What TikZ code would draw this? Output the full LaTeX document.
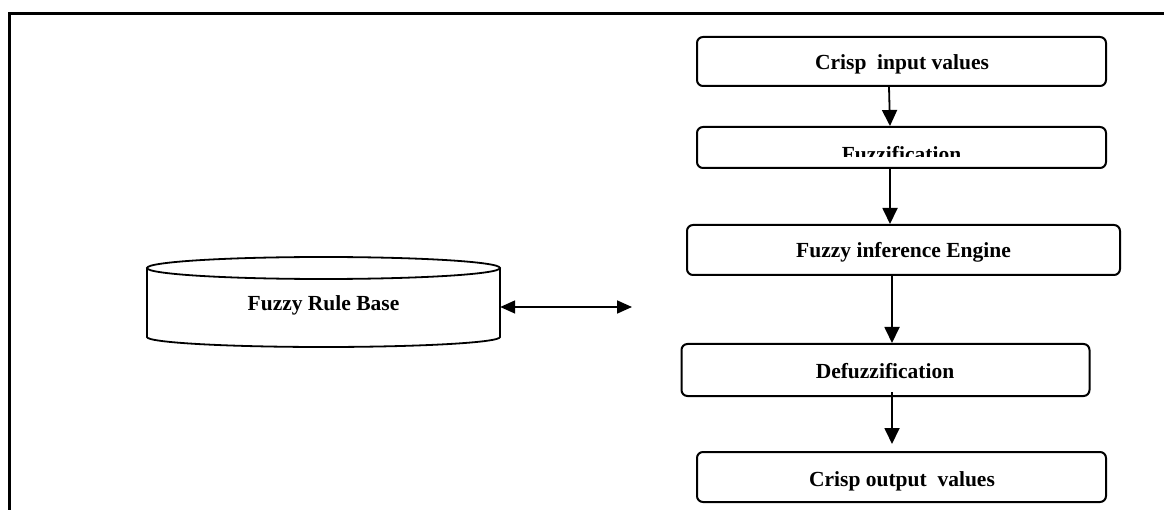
\documentclass[tikz,border=0pt]{standalone}
\usepackage{fontspec}
\setmainfont{Liberation Serif}
\usetikzlibrary{arrows.meta}
\tikzset{
  procbox/.style={draw=black, line width=2pt, rounded corners=6pt, inner sep=0pt},
  lbl/.style={font=\fontsize{21.5}{24}\selectfont\bfseries, inner sep=0pt, anchor=base},
  arr/.style={line width=1.8pt, -{Triangle[length=16pt,width=15pt]}},
  darr/.style={line width=1.8pt, {Triangle[length=15pt,width=13pt]}-{Triangle[length=15pt,width=13pt]}},
  frame/.style={line width=3pt}
}
\begin{document}
\begin{tikzpicture}[x=1pt,y=-1pt]
\useasboundingbox (0,0) rectangle (1164,510);
% frame
\coordinate (ftr) at (1164,14);
\coordinate (ftl) at (9,14);
\coordinate (fbl) at (9,510);
\draw[frame] (ftr) -- (ftl) -- (fbl);

% process boxes
\node[procbox, minimum width=409pt, minimum height=49pt] (cin) at (901.5,61.5) {};
\node[procbox, minimum width=409pt, minimum height=41pt] (fz) at (901.5,147.5) {};
\node[procbox, minimum width=433pt, minimum height=50pt] (fie) at (903.5,250) {};
\node[procbox, minimum width=408pt, minimum height=52pt] (dfz) at (885.5,370) {};
\node[procbox, minimum width=409pt, minimum height=50pt] (cout) at (901.5,477) {};

% labels
\node[lbl] (tcin) at (902,70) {Crisp\ \ input values};
\begin{scope}
  \clip (690,128) rectangle (1112,157);
  \node[lbl] (tfz) at (901.5,161.5) {Fuzzification};
\end{scope}
\node[lbl] (tfie) at (903.5,258) {Fuzzy inference Engine};
\node[lbl] (tdfz) at (885,378) {Defuzzification};
\node[lbl] (tcout) at (902,486) {Crisp output\ \ values};

% cylinder (rule base)
\node[minimum width=353pt, minimum height=79pt, inner sep=0pt] (frb) at (323.5,302.5) {};
\draw[line width=1.8pt] (147,268) -- (147,337) arc[start angle=180, end angle=360, x radius=176.5pt, y radius=10pt] -- (500,268);
\draw[line width=1.8pt] (323.5,268) ellipse[x radius=176.5pt, y radius=11pt];
\node[lbl] (tfrb) at (323.5,311) {Fuzzy Rule Base};

% arrows
\draw[arr] ([xshift=-12.5pt]cin.south) -- ([xshift=-11.5pt]fz.north);
\draw[arr] ([xshift=-11.5pt]fz.south) -- ([xshift=-13.5pt]fie.north);
\draw[arr] ([xshift=-11.5pt]fie.south) -- ([xshift=6.5pt]dfz.north);
\coordinate (dstart) at ([xshift=6.5pt,yshift=5pt]dfz.south);
\coordinate (dend) at ([xshift=-9.5pt,yshift=7pt]cout.north);
\draw[arr] (dstart) -- (dend);
\coordinate (rbend) at (632,307);
\draw[darr] (frb.east |- rbend) -- (rbend);
\end{tikzpicture}
\end{document}
